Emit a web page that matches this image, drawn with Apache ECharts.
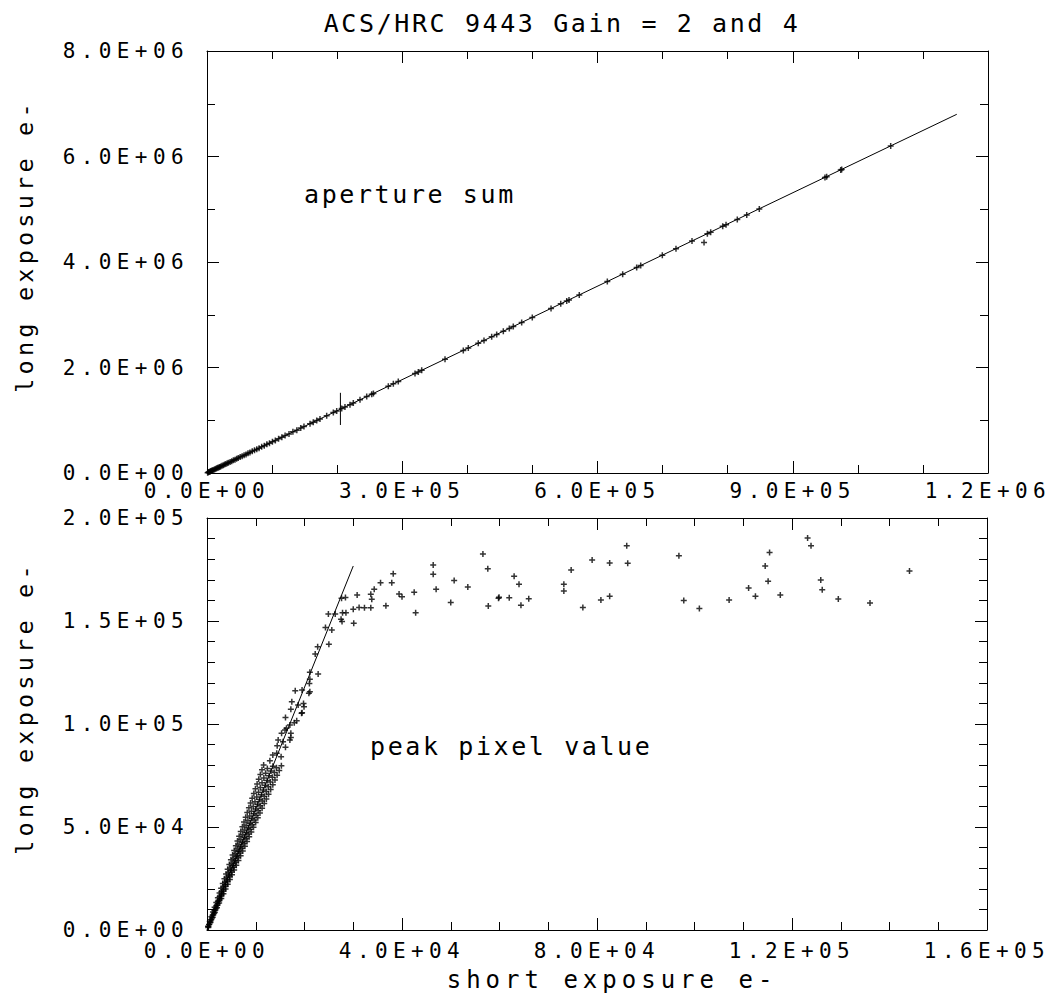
<!DOCTYPE html>
<html>
<head>
<meta charset="utf-8">
<title>ACS/HRC 9443 Gain = 2 and 4</title>
<script src="https://cdn.jsdelivr.net/npm/echarts@6/dist/echarts.min.js"></script>
<style>
  html, body { margin: 0; padding: 0; background: #fff; }
  #chart { width: 1050px; height: 995px; }
  /* the plotting font is wide-set, so open up the letters */
  #chart text[style*="21px"] { letter-spacing: 5.4px; }
  #chart text[style*="25px"] { letter-spacing: 2.6px; }
  #chart text[style*="24px"] { letter-spacing: 5px; }
  #chart text[style*="23.5px"] { letter-spacing: 4.2px; }
</style>
</head>
<body>
<div id="chart"></div>
<script>
// tick labels
const topXLabels = ['0.0E+00', '3.0E+05', '6.0E+05', '9.0E+05', '1.2E+06']
const topYLabels = ['0.0E+00', '2.0E+06', '4.0E+06', '6.0E+06', '8.0E+06']
const bottomXLabels = ['0.0E+00', '4.0E+04', '8.0E+04', '1.2E+05', '1.6E+05']
const bottomYLabels = ['0.0E+00', '5.0E+04', '1.0E+05', '1.5E+05', '2.0E+05']

// aperture sum, [short exposure e-, long exposure e-]
const apertureSum = [
  [1000, 5800], [2000, 12000], [3000, 17600], [4000, 23800], [5000, 29300], [6000, 35700], [7000, 41100],
  [8000, 47500], [9000, 52800], [10500, 62400], [12000, 70500], [13500, 80100], [15000, 88200], [16500, 97900],
  [18000, 105800], [19500, 115600], [21000, 123500], [23000, 136600], [25000, 147000], [27000, 160200],
  [29000, 170500], [31000, 184000], [33000, 194000], [35500, 210700], [38000, 223500], [40500, 240300],
  [43000, 252800], [45500, 270000], [48000, 282200], [51000, 302700], [54000, 317600], [57000, 338200],
  [60000, 352800], [63000, 373800], [66000, 388100], [69500, 411200], [73000, 429600], [76500, 452600],
  [80000, 470800], [84000, 496800], [88000, 517800], [92000, 544000], [96000, 564900], [100500, 594200],
  [105000, 617900], [110000, 650300], [115000, 676800], [120000, 709500], [126000, 741500], [132000, 780200],
  [138000, 812000], [144000, 851200], [149000, 879400],
  [158300, 934500], [163300, 963200], [168600, 995500], [173600, 1024000], [183900, 1085400], [194100, 1145000],
  [199300, 1176300], [207000, 1221000], [212000, 1251500], [219700, 1296000], [224800, 1326900],
  [235100, 1387000], [245400, 1448500], [253100, 1493000], [255700, 1509300], [278600, 1643400],
  [286300, 1689600], [293900, 1733600], [319600, 1886000], [324700, 1915400], [329900, 1947000],
  [365700, 2157500], [393800, 2323800], [401500, 2368500], [416800, 2459600], [425600, 2510700],
  [437400, 2581000], [445100, 2626600], [455300, 2686000], [464500, 2741500], [470600, 2776300],
  [483500, 2853000], [499800, 2948600], [528600, 3119300], [543500, 3206200], [552700, 3261500],
  [556200, 3281100], [572000, 3375500], [615100, 3629000], [638700, 3768600], [660200, 3895200],
  [666400, 3932500], [699600, 4127800], [720600, 4252000], [745200, 4396500], [763700, 4370000],
  [768800, 4536500], [773900, 4565600], [792400, 4675400], [797500, 4705000], [814800, 4807600],
  [829300, 4893000], [848600, 5006700], [949500, 5602000], [952100, 5617500], [973700, 5745300],
  [975200, 5753700], [1050500, 6198000]
]
const apertureFit = [[0, 0], [1152000, 6800000]]
const apertureErrorBar = [[205000, 910000], [205000, 1520000]]

// peak pixel value, dense band below 8E4
const peakBand = [
  [220, 1850], [260, 1250], [290, 1550], [420, 2500], [480, 2850],
  [560, 4150], [650, 3550], [730, 3850], [780, 4800], [900, 5150],
  [890, 6450], [1040, 5850], [1170, 6150], [1140, 7100], [1310, 7450],
  [1220, 8750], [1430, 8150], [1610, 8450], [1510, 9400], [1730, 9750],
  [1560, 11050], [1810, 10450], [2050, 10750], [1870, 11700], [2150, 12050],
  [1900, 13350], [2200, 12750], [2490, 13050], [2230, 14000], [2570, 14350],
  [2230, 15650], [2600, 15050], [2930, 15350], [2590, 16300], [2980, 16650],
  [2570, 17950], [2980, 17350], [3370, 17650], [2960, 18600], [3400, 18950],
  [2900, 20250], [3370, 19650], [3810, 19950], [3320, 20900], [3820, 21250],
  [3240, 22550], [3760, 21950], [4250, 22250], [3680, 23200], [4230, 23550],
  [3570, 24850], [4150, 24250], [4690, 24550], [4040, 25500], [4650, 25850],
  [3910, 27150], [4540, 26550], [5130, 26850], [4410, 27800], [5070, 28150],
  [4240, 29450], [4930, 28850], [5570, 29150], [4770, 30100], [5490, 30450],
  [4580, 31750], [5320, 31150], [6010, 31450], [5130, 32400], [5900, 32750],
  [4910, 34050], [5710, 33450], [6450, 33750], [5490, 34700], [6320, 35050],
  [5250, 36350], [6100, 35750], [6900, 36050], [5860, 37000], [6740, 37350],
  [5580, 38650], [6490, 38050], [7340, 38350], [6220, 39300], [7150, 39650],
  [5920, 40950], [6880, 40350], [7780, 40650], [6580, 41600], [7570, 41950],
  [6250, 43250], [7270, 42650], [8220, 42950], [6940, 43900], [7990, 44250],
  [6590, 45550], [7660, 44950], [8660, 45250], [7310, 46200], [8410, 46550],
  [6920, 47850], [8050, 47250], [9100, 47550], [7670, 48500], [8820, 48850],
  [7260, 50150], [8440, 49550], [9540, 49850], [8030, 50800], [9240, 51150],
  [7590, 52450], [8830, 51850], [9980, 52150], [8390, 53100], [9660, 53450],
  [7930, 54750], [9220, 54150], [10420, 54450], [8760, 55400], [10070, 55750],
  [8260, 57050], [9610, 56450], [10860, 56750], [9120, 57700], [10490, 58050],
  [8600, 59350], [10000, 58750], [11300, 59050], [9480, 60000], [10910, 60350],
  [8940, 61650], [10390, 61050], [11740, 61350], [9840, 62300], [11330, 62650],
  [9270, 63950], [10780, 63350], [12180, 63650], [10210, 64600], [11740, 64950],
  [9610, 66250], [11170, 65650], [12620, 65950], [10570, 66900], [12160, 67250],
  [9940, 68550], [11560, 67950], [13060, 68250], [10930, 69200], [12580, 69550],
  [10280, 70850], [11950, 70250], [13500, 70550], [11290, 71500], [12990, 71850],
  [10610, 73150], [12340, 72550], [13940, 72850], [11660, 73800], [13410, 74150],
  [10950, 75450], [12730, 74850], [14380, 75150], [12020, 76100], [13830, 76450],
  [11280, 77750], [13120, 77150], [14820, 77450], [12380, 78400], [14250, 78750],
  [11620, 80050], [13510, 79450], [15260, 79750]
]
// peak pixel value, points above 8E4
const peakUpper = [
  [12900, 82200], [13500, 84900], [14300, 85800], [15200, 84100], [14400, 89500], [14600, 92200],
  [16100, 88700], [15600, 91400], [15300, 95500], [17000, 92200], [17200, 93500], [17200, 95500],
  [16000, 97100], [16300, 97900], [16100, 103100], [17000, 99500], [17900, 100600], [18400, 101600],
  [19400, 105200], [19500, 105500], [17200, 107100], [17400, 110800], [18700, 109200], [19900, 108400],
  [19800, 110000], [18100, 116200], [19500, 116500], [20900, 114900], [21100, 115700], [21000, 119700],
  [21100, 121700], [21100, 125100], [22800, 124300], [22200, 134000], [22700, 137500], [25000, 138700],
  [24300, 146900], [25600, 145600], [24900, 153400], [26300, 153400], [27700, 149700], [27500, 150800],
  [27800, 154000], [28500, 154000], [27600, 161000], [28400, 161400], [30100, 148900], [30800, 162600],
  [30000, 155700], [31200, 156600], [32300, 156400], [33600, 156400], [36700, 157400], [42800, 154000],
  [42500, 163900], [40000, 161800], [39400, 163100], [33800, 160500], [33600, 163000], [34300, 165400],
  [35600, 168600], [37900, 168600], [38200, 172900], [47000, 165400], [46400, 172700], [46400, 177200],
  [50000, 159000], [50700, 169700], [53500, 166500], [56600, 182500], [57600, 175400], [57700, 157300],
  [59800, 161000], [59900, 161500], [62000, 161300], [63000, 171700], [64000, 167900], [64400, 157600],
  [66000, 160800], [73200, 167900], [73200, 164600], [74700, 174700], [77100, 156600], [79000, 179600],
  [80800, 160200], [82600, 178100], [82600, 162000], [86100, 186500], [86300, 178000], [96800, 181700],
  [97800, 160000], [101000, 156100], [107100, 160200], [111100, 166000], [112500, 162000], [114500, 176700],
  [115100, 169300], [115400, 183300], [117600, 162600], [123200, 190300], [123900, 186500], [125900, 169900],
  [126200, 165200], [129500, 160700], [136000, 158700], [144100, 174300]
]
const peakFit = [[0, 0], [30000, 176700]]

const FONT = 'DejaVu Sans Mono'
// plus-shaped marker, arms a quarter of the box wide
const PLUS = 'path://M2.25,0h1.5v2.25h2.25v1.5h-2.25v2.25h-1.5v-2.25h-2.25v-1.5h2.25z'

function axis(pos, gridIndex, max, interval, minorSplit, labels, margin) {
  const a = {
    type: 'value',
    position: pos,
    gridIndex: gridIndex,
    min: 0,
    max: max,
    interval: interval,
    axisLine: { show: true, onZero: false, lineStyle: { color: '#000', width: 1 } },
    axisTick: { show: true, inside: true, length: 12, lineStyle: { color: '#000', width: 1 } },
    minorTick: { show: true, splitNumber: minorSplit, length: 8, lineStyle: { color: '#000', width: 1 } },
    splitLine: { show: false },
    axisLabel: { show: false }
  }
  if (labels) {
    a.axisLabel = {
      show: true,
      margin: margin,
      color: '#000',
      fontFamily: FONT,
      fontSize: 21,
      showMinLabel: true,
      showMaxLabel: true,
      formatter: v => labels[Math.round(v / interval)]
    }
  }
  return a
}

function axisName(a, text, gap, size, shift) {
  a.name = text
  a.nameLocation = 'middle'
  a.nameGap = gap
  a.nameTextStyle = { color: '#000', fontFamily: FONT, fontSize: size, padding: [0, 0, 0, shift] }
  return a
}

const chart = echarts.init(document.getElementById('chart'), null, { renderer: 'svg' })

const lineStyle = { color: '#000', width: 1 }
const markStyle = { color: '#000' }

chart.setOption({
  animation: false,
  backgroundColor: '#fff',
  grid: [
    { left: 207, top: 51, width: 781, height: 422 },
    { left: 207, top: 518, width: 780, height: 412 }
  ],
  xAxis: [
    axis('bottom', 0, 1200000, 300000, 3, topXLabels, 7),
    axis('top', 0, 1200000, 300000, 3, null),
    axisName(axis('bottom', 1, 160000, 40000, 4, bottomXLabels, 10), 'short exposure e-', 38, 24, 30),
    axis('top', 1, 160000, 40000, 4, null)
  ],
  yAxis: [
    axisName(axis('left', 0, 8000000, 2000000, 2, topYLabels, 18), 'long exposure e-', 170, 23.5, 32),
    axis('right', 0, 8000000, 2000000, 2, null),
    axisName(axis('left', 1, 200000, 50000, 5, bottomYLabels, 18), 'long exposure e-', 170, 23.5, 32),
    axis('right', 1, 200000, 50000, 5, null)
  ],
  graphic: [
    {
      type: 'text', x: 562, y: 23,
      style: { text: 'ACS/HRC 9443 Gain = 2 and 4', fill: '#000', font: '25px "' + FONT + '"', textAlign: 'center', textVerticalAlign: 'middle' }
    },
    {
      type: 'text', x: 304, y: 194,
      style: { text: 'aperture sum', fill: '#000', font: '25px "' + FONT + '"', textAlign: 'left', textVerticalAlign: 'middle' }
    },
    {
      type: 'text', x: 370, y: 746,
      style: { text: 'peak pixel value', fill: '#000', font: '25px "' + FONT + '"', textAlign: 'left', textVerticalAlign: 'middle' }
    }
  ],
  series: [
    {
      type: 'scatter', xAxisIndex: 0, yAxisIndex: 0,
      symbol: PLUS, symbolSize: 6, itemStyle: markStyle,
      data: apertureSum
    },
    {
      type: 'line', xAxisIndex: 0, yAxisIndex: 0, showSymbol: false, lineStyle: lineStyle,
      data: apertureFit
    },
    {
      type: 'line', xAxisIndex: 0, yAxisIndex: 0, showSymbol: false, lineStyle: lineStyle,
      data: apertureErrorBar
    },
    {
      type: 'scatter', xAxisIndex: 2, yAxisIndex: 2,
      symbol: PLUS, symbolSize: 6, itemStyle: markStyle,
      data: peakBand.concat(peakUpper)
    },
    {
      type: 'line', xAxisIndex: 2, yAxisIndex: 2, showSymbol: false, lineStyle: lineStyle,
      data: peakFit
    }
  ]
})
</script>
</body>
</html>
